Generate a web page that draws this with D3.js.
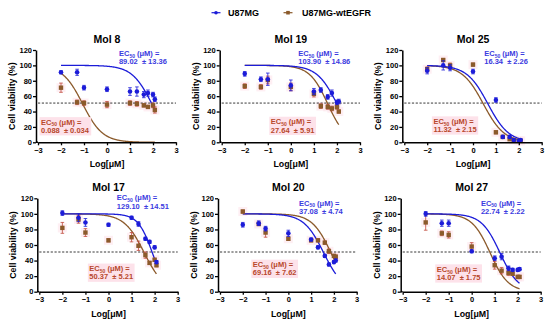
<!DOCTYPE html>
<html>
<head>
<meta charset="utf-8">
<script src="https://cdn.jsdelivr.net/npm/d3@7"></script>
<style>
  body { margin: 0; background: #fff; }
  svg { font-family: "Liberation Sans", Arial, sans-serif; font-weight: bold; }
</style>
</head>
<body>
<div id="chart"></div>
<script>
// data
const LOG_CONC = [-2, -1.3, -1, 0, 1, 1.3, 1.6, 1.78, 2, 2.08];
const MOLECULES = ["Mol 8", "Mol 19", "Mol 25", "Mol 17", "Mol 20", "Mol 27"];
const SERIES = ["U87MG", "U87MG-wtEGFR"];

const U87_VIAB = [
  [91, 91, 71, 69, 66, 66, 62, 64, 62, 56],
  [89, 82, 82, 74, 66, 68, 59, 64, 52, 53],
  [93, 100, 97, 92, 55, 7, 7, 3, 2, 3],
  [101, 95, 89, 86, 95, 87, 68, 64, 57, 38],
  [86, 88, 81, 75, 67, 57, 46, 35, 38, 40],
  [100, 88, 88, 52, 43, 45, 30, 28, 28, 29]
];
const U87_ERR = [
  [2, 4, 3, 3, 5, 6, 4, 4, 3, 3],
  [3, 3, 8, 7, 4, 3, 3, 4, 3, 3],
  [4, 6, 4, 3, 3, 2, 2, 1, 1, 1],
  [3, 5, 5, 2, 2, 3, 2, 2, 2, 2],
  [3, 3, 3, 4, 2, 2, 2, 2, 2, 2],
  [3, 4, 4, 2, 3, 4, 3, 2, 2, 2]
];
const WT_VIAB = [
  [71, 52, 51, 49, 51, 50, 48, 46, 48, 42],
  [73, 72, 81, 72, 63, 47, 46, 44, 46, 40],
  [95, 107, 100, 101, 13, 7, 4, 3, 2, 2],
  [82, 93, 76, 66, 70, 59, 47, 37, 41, 34],
  [103, 87, 76, 68, 66, 66, 63, 52, 46, 45],
  [89, 75, 73, 58, 34, 27, 24, 23, 19, 19]
];
const WT_ERR = [
  [6, 3, 3, 4, 3, 3, 2, 2, 3, 4],
  [3, 3, 5, 5, 4, 3, 3, 3, 3, 2],
  [3, 2, 3, 2, 2, 1, 1, 1, 1, 1],
  [7, 5, 5, 2, 6, 6, 4, 2, 2, 2],
  [2, 2, 6, 2, 2, 2, 2, 3, 2, 2],
  [10, 3, 4, 5, 5, 4, 3, 2, 2, 2]
];

const U87_EC50 = ["89.02", "103.90", "16.34", "129.10", "37.08", "22.74"];
const U87_SD = ["13.36", "14.86", "2.26", "14.51", "4.74", "2.22"];
const WT_EC50 = ["0.088", "27.64", "11.32", "50.37", "69.16", "14.07"];
const WT_SD = ["0.034", "5.91", "2.15", "5.21", "7.62", "1.75"];

// fitted curves as drawn (log midpoint, hill slope), top 100 bottom 0
const U87_MID = [1.95, 2.0, 0.65, 1.9, 1.55, 1.23];
const U87_HILL = [1.0, 1.0, 0.95, 1.4, 1.0, 1.08];
const WT_MID = [-1.06, 1.6, 0.45, 1.55, 1.87, 0.8];
const WT_HILL = [1.0, 1.1, 0.95, 1.0, 1.05, 1.1];

const X_TICKS = [-3, -2, -1, 0, 1, 2, 3];
const Y_TICKS = [0, 20, 40, 60, 80, 100, 120];
const CUTOFF = 51;

// layout
const WIDTH = 550, HEIGHT = 325;
const PANELS = [
  { x0: 38, x1: 176, yTop: 50, yBot: 142.3 },
  { x0: 221.7, x1: 360, yTop: 50, yBot: 142.3 },
  { x0: 404.3, x1: 541.7, yTop: 50, yBot: 142.3 },
  { x0: 39.3, x1: 177.7, yTop: 198.3, yBot: 291.7 },
  { x0: 220, x1: 356.7, yTop: 198.3, yBot: 291.7 },
  { x0: 402.7, x1: 540.7, yTop: 198.3, yBot: 291.7 }
];
const Y_AXIS_GAP = 2; // y axis sits a little left of x = -3
// label anchors in data units (log x, % y)
const BLUE_LABEL = [[0.52, 116], [0.32, 116], [0.49, 116], [0.36, 121], [0.47, 114], [0.40, 114]];
const BROWN_LABEL = [[-2.87, 26.5], [-0.87, 27], [-1.73, 27.5], [-0.83, 30], [-1.56, 35], [-1.52, 29]];

const BLUE = "#1c1cd8", BLUE_TEXT = "#3b3be0";
const BROWN = "#8b5a2b", BROWN_ERR = "#c0473a", BROWN_TEXT = "#b8482c", PINK = "#fde2ea";

const svg = d3.select("#chart").append("svg")
  .attr("width", WIDTH)
  .attr("height", HEIGHT);

// legend
const legend = svg.append("g").attr("transform", "translate(0,12.7)");
[[216, 228, BLUE, "circle"], [288, 302, BROWN, "square"]].forEach(function (l, i) {
  legend.append("line").attr("x1", l[0] - 4.5).attr("x2", l[0] + 4.5)
    .attr("stroke", l[2]).attr("stroke-width", 1.2);
  if (l[3] === "circle") {
    legend.append("circle").attr("cx", l[0]).attr("r", 1.8).attr("fill", l[2]);
  } else {
    legend.append("rect").attr("x", l[0] - 1.8).attr("y", -1.8).attr("width", 3.6).attr("height", 3.6).attr("fill", l[2]);
  }
  legend.append("text").attr("x", l[1]).attr("dy", "0.35em")
    .attr("font-size", 9).text(SERIES[i]);
});

function logistic(x, mid, hill) {
  return 100 / (1 + Math.pow(10, hill * (x - mid)));
}

function ecLabel(g, x, y, color, value, sd, withBg) {
  const t = g.append("text").attr("x", x).attr("y", y)
    .attr("fill", color).attr("font-size", 7.5)
    .style("white-space", "pre");
  t.append("tspan").text("EC");
  t.append("tspan").attr("font-size", 5).attr("dy", 1.8).text("50");
  t.append("tspan").attr("dy", -1.8).text(" (μM) =");
  t.append("tspan").attr("x", x).attr("dy", 8.3).text(value + "  ± " + sd);
  if (withBg) {
    const b = t.node().getBBox();
    g.insert("rect", () => t.node())
      .attr("x", b.x - 1.5).attr("y", b.y - 0.5)
      .attr("width", b.width + 3).attr("height", b.height + 1)
      .attr("fill", PINK);
  }
}

PANELS.forEach(function (p, i) {
  const g = svg.append("g");
  const x = d3.scaleLinear().domain([-3, 3]).range([p.x0, p.x1]);
  const y = d3.scaleLinear().domain([0, 120]).range([p.yBot, p.yTop]);
  const yAxisX = p.x0 - Y_AXIS_GAP;

  // title
  g.append("text").attr("x", (p.x0 + p.x1) / 2).attr("y", p.yTop - 11)
    .attr("dy", "0.35em").attr("text-anchor", "middle")
    .attr("font-size", 10.5).text(MOLECULES[i]);

  // axis labels
  g.append("text")
    .attr("transform", "translate(" + (p.x0 - 26) + "," + ((p.yTop + p.yBot) / 2) + ") rotate(-90)")
    .attr("dy", "0.35em").attr("text-anchor", "middle")
    .attr("font-size", 8.8).text("Cell viability (%)");
  g.append("text").attr("x", (p.x0 + p.x1) / 2).attr("y", p.yBot + 22)
    .attr("dy", "0.35em").attr("text-anchor", "middle")
    .attr("font-size", 8.8).text("Log[μM]");

  // faint pink patches behind brown points
  g.append("g").selectAll("rect")
    .data(LOG_CONC)
    .enter()
    .append("rect")
    .attr("x", d => x(d) - 4.5)
    .attr("y", (d, j) => y(WT_VIAB[i][j]) - 4.5)
    .attr("width", 9).attr("height", 9)
    .attr("fill", PINK).attr("opacity", 0.55);

  // cutoff line
  g.append("line")
    .attr("x1", x(-3)).attr("x2", x(3))
    .attr("y1", y(CUTOFF)).attr("y2", y(CUTOFF))
    .attr("stroke", "#222").attr("stroke-width", 0.9)
    .attr("stroke-dasharray", "2.2,1.6");

  // fitted curves
  const xs = d3.range(-2, 2.0801, 0.02);
  const line = d3.line().x(d => x(d[0])).y(d => y(d[1]));
  g.append("path")
    .datum(xs.map(v => [v, logistic(v, WT_MID[i], WT_HILL[i])]))
    .attr("fill", "none").attr("stroke", BROWN).attr("stroke-width", 1.3)
    .attr("d", line);
  g.append("path")
    .datum(xs.map(v => [v, logistic(v, U87_MID[i], U87_HILL[i])]))
    .attr("fill", "none").attr("stroke", BLUE).attr("stroke-width", 1.3)
    .attr("d", line);

  // points with error bars
  function drawSeries(vals, errs, color, errColor, shape) {
    const s = g.append("g");
    LOG_CONC.forEach(function (c, j) {
      const cx = x(c), lo = y(vals[j] - errs[j]), hi = y(vals[j] + errs[j]);
      s.append("line").attr("x1", cx).attr("x2", cx).attr("y1", lo).attr("y2", hi)
        .attr("stroke", errColor).attr("stroke-width", 0.8);
      [lo, hi].forEach(function (yy) {
        s.append("line").attr("x1", cx - 1.8).attr("x2", cx + 1.8).attr("y1", yy).attr("y2", yy)
          .attr("stroke", errColor).attr("stroke-width", 0.8);
      });
      if (shape === "circle") {
        s.append("circle").attr("cx", cx).attr("cy", y(vals[j])).attr("r", 2.3).attr("fill", color);
      } else {
        s.append("rect").attr("x", cx - 2.2).attr("y", y(vals[j]) - 2.2)
          .attr("width", 4.4).attr("height", 4.4).attr("fill", color);
      }
    });
  }
  drawSeries(WT_VIAB[i], WT_ERR[i], BROWN, BROWN_ERR, "square");
  drawSeries(U87_VIAB[i], U87_ERR[i], BLUE, BLUE, "circle");

  // axes
  const gx = g.append("g").attr("transform", "translate(0," + p.yBot + ")")
    .call(d3.axisBottom(x).tickValues(X_TICKS).tickFormat(d3.format("d"))
      .tickSize(3).tickSizeOuter(0).tickPadding(2));
  // join x axis to the y axis
  gx.append("line").attr("x1", yAxisX).attr("x2", x(-3))
    .attr("stroke", "#000").attr("stroke-width", 1.5);
  const gy = g.append("g").attr("transform", "translate(" + yAxisX + ",0)")
    .call(d3.axisLeft(y).tickValues(Y_TICKS).tickSize(3).tickSizeOuter(0).tickPadding(1));
  [gx, gy].forEach(function (a) {
    a.select(".domain").attr("stroke-width", 1.5);
    a.selectAll(".tick line").attr("stroke-width", 1.3);
    a.selectAll(".tick text").attr("font-size", 7.5).attr("font-weight", "bold")
      .attr("font-family", "Liberation Sans, Arial, sans-serif");
  });
  gy.selectAll(".tick text").attr("dy", "0.3em");

  // EC50 labels
  ecLabel(g, x(BLUE_LABEL[i][0]), y(BLUE_LABEL[i][1]) + 2.7, BLUE_TEXT, U87_EC50[i], U87_SD[i], false);
  ecLabel(g, x(BROWN_LABEL[i][0]), y(BROWN_LABEL[i][1]) + 2.7, BROWN_TEXT, WT_EC50[i], WT_SD[i], true);
});
</script>
</body>
</html>
